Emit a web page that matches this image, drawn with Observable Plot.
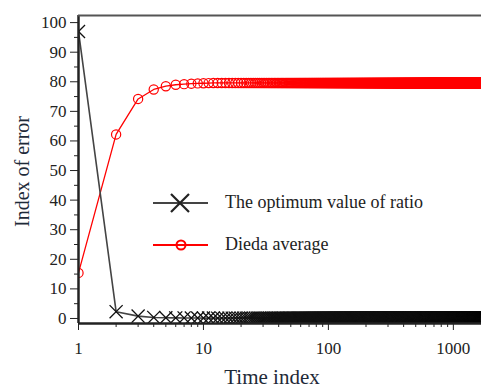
<!DOCTYPE html>
<html>
<head>
<meta charset="utf-8">
<script src="https://cdn.jsdelivr.net/npm/d3@7"></script>
<script src="https://cdn.jsdelivr.net/npm/@observablehq/plot@0.6"></script>
<style>
  html, body { margin: 0; padding: 0; background: #fff; }
  #chart svg { display: block; font-family: "Liberation Serif", serif; }
  #chart svg text { font-family: "Liberation Serif", serif; }
</style>
</head>
<body>
<div id="chart"></div>
<script>
// ---- data ----
const earlyTimes = [1, 2, 3, 4, 5, 6, 7, 8, 9, 10, 11, 12];
const ratioEarly = [97, 2.3, 0.8, 0.35, 0.25, 0.2, 0.18, 0.15, 0.14, 0.13, 0.12, 0.12];
const diedaEarly = [15.4, 62.2, 74.2, 77.4, 78.5, 79.0, 79.2, 79.35, 79.45, 79.5, 79.55, 79.6];
const ratioTail = 0.1;     // flat value read for t > 12
const diedaTail = 79.6;    // flat value read for t > 12
const lastTime = 2000;
const seriesNames = ["The optimum value of ratio", "Dieda average"];
const xMajorTicks = [1, 10, 100, 1000];
const xMinorTicks = [2,3,4,5,6,7,8,9,20,30,40,50,60,70,80,90,200,300,400,500,600,700,800,900];
const yMajorTicks = [0,10,20,30,40,50,60,70,80,90,100];
const yMinorTicks = [5,15,25,35,45,55,65,75,85,95];
const xDomain = [1, 1680];
const yDomain = [-1.7, 102.4];

const times = d3.range(1, lastTime + 1);
const rows = times.map(t => ({
  t,
  ratio: t <= earlyTimes.length ? ratioEarly[t - 1] : ratioTail,
  dieda: t <= earlyTimes.length ? diedaEarly[t - 1] : diedaTail
}));

const axisColor = "#222";
const blackC = "#444";
const redC = "#ff0000";
const serif = "Liberation Serif";

const plot = Plot.plot({
  width: 481,
  height: 391,
  marginTop: 15,
  marginBottom: 68,
  marginLeft: 78,
  marginRight: 0,
  style: { fontFamily: serif, fontSize: "17px", background: "#fff" },
  x: { type: "log", domain: xDomain },
  y: { domain: yDomain },
  marks: [
    Plot.line(rows, { x: "t", y: "dieda", stroke: redC, strokeWidth: 1.3, clip: true }),
    Plot.dot(rows, { x: "t", y: "dieda", stroke: redC, strokeWidth: 1.2, r: 4.6, fill: "none", clip: true }),
    Plot.line(rows, { x: "t", y: "ratio", stroke: blackC, strokeWidth: 1.6, clip: true }),
    Plot.dot(rows, { x: "t", y: "ratio", symbol: "times", stroke: "#111", strokeWidth: 1.3, r: 6, clip: true }),
    Plot.ruleX([xDomain[0]], { stroke: axisColor, strokeWidth: 2.5 }),
    Plot.ruleY([yDomain[0]], { stroke: axisColor, strokeWidth: 2.5 }),
    Plot.ruleY([yDomain[1]], { stroke: "#555", strokeWidth: 2 }),
    Plot.axisY({ ticks: yMajorTicks, tickSize: 8, tickPadding: 4, tickFormat: d => String(d), label: null, color: axisColor, fontSize: 17 }),
    Plot.axisY({ ticks: yMinorTicks, tickSize: 4, tickFormat: () => "", label: null, color: axisColor }),
    Plot.axisX({ ticks: xMajorTicks, tickSize: 7, tickPadding: 11, tickFormat: d => String(d), label: null, color: axisColor, fontSize: 17 }),
    Plot.axisX({ ticks: xMinorTicks, tickSize: 4, tickFormat: () => "", label: null, color: axisColor }),
    Plot.text(["Time index"], { frameAnchor: "bottom", textAnchor: "middle", lineAnchor: "middle", dy: 54, dx: -8, fontSize: 21, fill: "#1e2a38" }),
    Plot.text(["Index of error"], { frameAnchor: "left", textAnchor: "middle", lineAnchor: "middle", dx: -56, dy: 2, rotate: -90, fontSize: 20, fill: "#1e2a38" })
  ]
});

document.getElementById("chart").appendChild(plot);

// ---- in-plot legend ----
const svg = d3.select(plot);
const lg = svg.append("g")
  .attr("font-family", serif)
  .attr("font-size", 18)
  .attr("text-anchor", "start");
const legendItems = [
  { name: seriesNames[0], color: blackC, y: 203, sym: "times" },
  { name: seriesNames[1], color: redC, y: 245, sym: "circle" }
];
legendItems.forEach(it => {
  lg.append("line").attr("x1", 153).attr("x2", 208).attr("y1", it.y).attr("y2", it.y)
    .attr("stroke", it.color).attr("stroke-width", 2.2);
  if (it.sym === "times") {
    lg.append("path").attr("d", "M171,194L189,212M189,194L171,212")
      .attr("stroke", "#222").attr("stroke-width", 2.2);
  } else {
    lg.append("circle").attr("cx", 181).attr("cy", it.y).attr("r", 4.5)
      .attr("fill", "none").attr("stroke", it.color).attr("stroke-width", 2);
  }
  lg.append("text").attr("x", 225).attr("y", it.y + 5).attr("fill", "#222")
    .attr("text-anchor", "start").text(it.name);
});
</script>
</body>
</html>
